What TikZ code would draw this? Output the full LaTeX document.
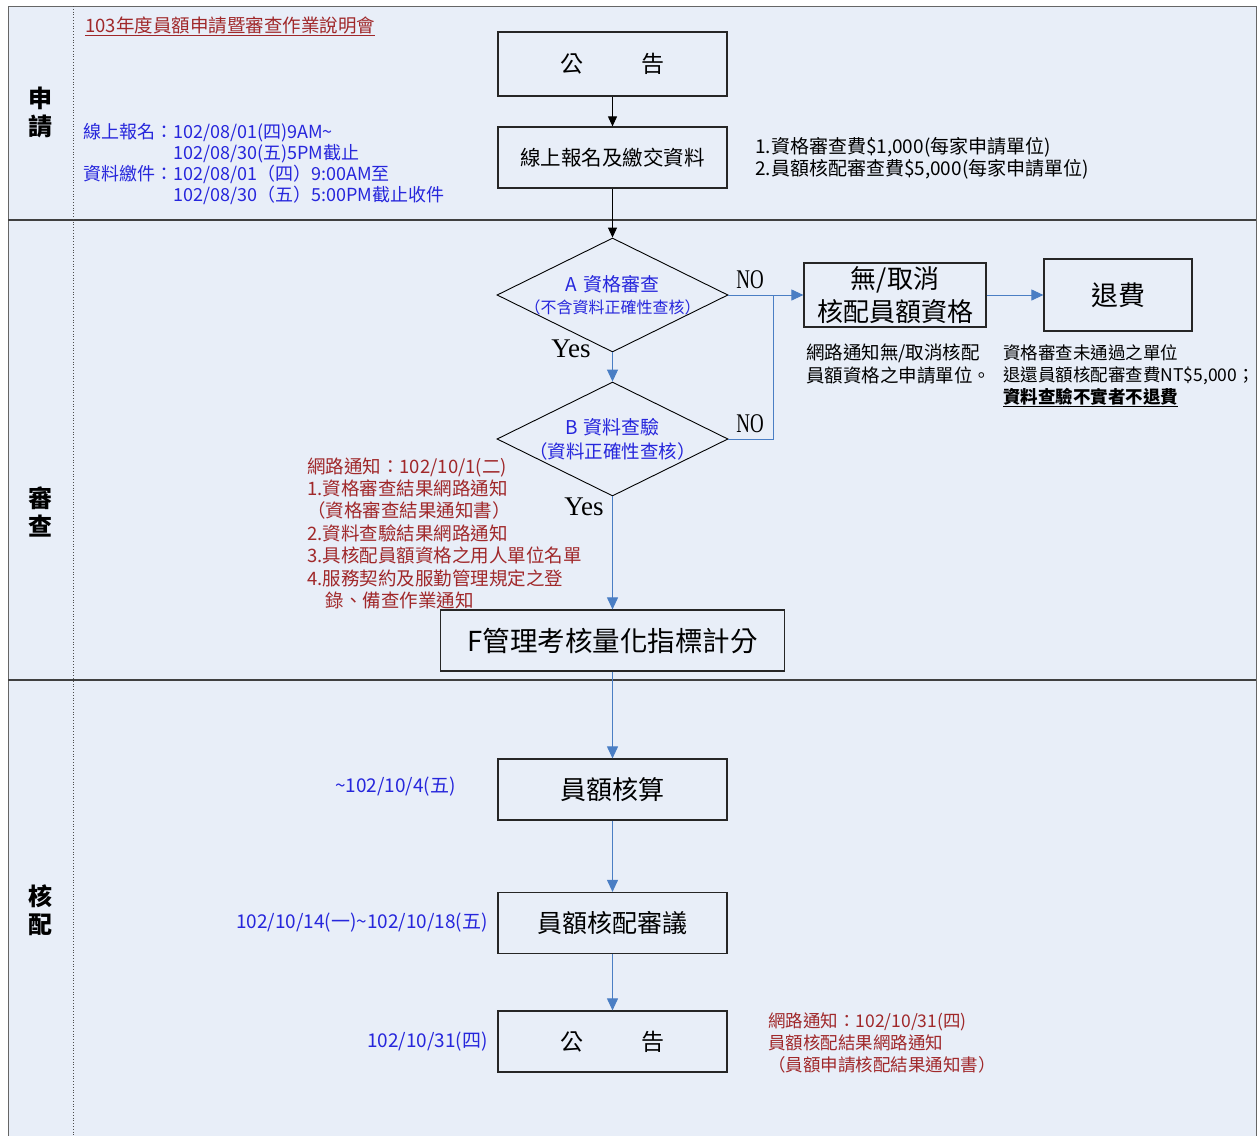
\documentclass[tikz,border=0pt]{standalone}
\usepackage{fontspec}
\setmainfont{Noto Sans CJK TC}
\newfontfamily\yesfont{Liberation Serif}
\usetikzlibrary{shapes.geometric,arrows.meta}
\definecolor{lanebg}{HTML}{E8EEF8}
\definecolor{flowblue}{HTML}{4A7EC4}
\definecolor{noteblue}{HTML}{2626DC}
\definecolor{notered}{HTML}{A0282A}
\begin{document}
\begin{tikzpicture}[x=1pt, y=-1pt,
    box/.style={draw=black!85, line width=1.2pt, inner sep=0pt, minimum width=229pt, minimum height=61pt},
    decide/.style={draw, diamond, line width=0.9pt, minimum width=231pt, minimum height=114pt, inner sep=0pt},
    flow/.style={-{Triangle[length=12pt,width=11pt]}, flowblue, line width=1pt},
    blackflow/.style={-{Triangle[length=10pt,width=9pt]}, black, line width=1pt},
    yes/.style={font=\yesfont\fontsize{27}{27}\selectfont, inner sep=0pt},
    lane/.style={font=\fontsize{24}{28}\selectfont\bfseries, align=center},
    note/.style={inner sep=0pt, anchor=base west, font=\fontsize{17.5}{22}\selectfont},
    datenote/.style={inner sep=0pt, anchor=east, text=noteblue, font=\fontsize{19}{22}\selectfont}]

          \useasboundingbox (0,0) rectangle (1260,1135);
          \fill[lanebg] (8,6) rectangle (1256,1140);
          \draw[black!60, line width=0.8pt] (8,1140) -- (8,6) -- (1256,6) -- (1256,1140);
          \draw[black!75, line width=1.5pt] (8,220) -- (1256,220);
          \draw[black!75, line width=1.5pt] (8,680) -- (1256,680);
          \draw[black!70, dotted, line width=0.8pt] (73,6) -- (73,1140);

          \node[lane] (laneA) at (40,112) {申\\請};
          \node[lane] (laneB) at (40,512) {審\\查};
          \node[lane] (laneC) at (40,910) {核\\配};

          \node[box, minimum height=64pt, font=\fontsize{23}{23}\selectfont] (post1) at (612.5,64) {公\hspace{58pt}告};
          \node[box, font=\fontsize{20.5}{20.5}\selectfont] (apply) at (612.5,157.5) {線上報名及繳交資料};
          \node[decide, label={[align=center, text=noteblue, font=\fontsize{16}{22}\selectfont]center:{{\fontsize{19}{22}\selectfont A\hspace{6pt}資格審查}\\（不含資料正確性查核）}}] (checkA) at (612.5,295) {};
          \node[decide, label={[align=center, text=noteblue, font=\fontsize{18.5}{24}\selectfont]center:{{\fontsize{19}{24}\selectfont B\hspace{6pt}資料查驗}\\（資料正確性查核）}}] (checkB) at (612.5,439) {};
          \node[box, minimum width=344pt, font=\fontsize{27.5}{27.5}\selectfont] (score) at (612.5,640.5) {F管理考核量化指標計分};
          \node[box, minimum width=182pt, minimum height=64pt, align=center, font=\fontsize{26}{33}\selectfont] (cancel) at (895,295) {無/取消\\核配員額資格};
          \node[box, minimum width=148pt, minimum height=72pt, font=\fontsize{27}{27}\selectfont] (refund) at (1118,295) {退費};
          \node[box, font=\fontsize{26}{26}\selectfont] (calc) at (612.5,789.5) {員額核算};
          \node[box, font=\fontsize{25}{25}\selectfont] (review) at (612.5,923) {員額核配審議};
          \node[box, font=\fontsize{23}{23}\selectfont] (post2) at (612.5,1041.5) {公\hspace{58pt}告};

          \node[yes] (yesA) at (571,349) {Yes};
          \node[yes] (yesB) at (584,507) {Yes};
          \node[yes] (noA) at (750,280) {\scalebox{0.7}[1]{NO}};
          \node[yes] (noB) at (750,424) {\scalebox{0.7}[1]{NO}};

          \draw[blackflow] (post1) -- (apply);
          \draw[blackflow] (apply) -- (checkA);
          \draw[flow] (checkA) -- (checkB);
          \draw[flow] (checkB) -- (score);
          \draw[flow] (score) -- (calc);
          \draw[flow] (calc) -- (review);
          \draw[flow] (review) -- (post2);
          \draw[flow] (checkA) -- (cancel);
          \draw[flow] (cancel) -- (refund);
          \coordinate (join) at (773,295);
          \draw[flowblue, line width=1pt] (checkB.east) -| (join);

          \node[note, text=notered, font=\fontsize{18.5}{22}\selectfont] (title) at (85,32) {\underline{103年度員額申請暨審查作業說明會}};
          \node[note, text=noteblue, font=\fontsize{18}{19.3}\selectfont] (regdate) at (83,138.5) {\begin{tabular}[t]{@{}l@{}l@{}}線上報名：&102/08/01(四)9AM\textasciitilde\\&102/08/30(五)5PM截止\\資料繳件：&102/08/01（四）9:00AM至\\&102/08/30（五）5:00PM截止收件\end{tabular}};
          \node[note, font=\fontsize{19}{22}\selectfont] (fees) at (755,153) {\begin{tabular}[t]{@{}l@{}}1.資格審查費\$1,000(每家申請單位)\\2.員額核配審查費\$5,000(每家申請單位)\end{tabular}};
          \node[note, font=\fontsize{18.5}{23}\selectfont] (cancelnote) at (806,359) {\begin{tabular}[t]{@{}l@{}}網路通知無/取消核配\\員額資格之申請單位。\end{tabular}};
          \node[note] (refundnote) at (1003,359) {\begin{tabular}[t]{@{}l@{}}資格審查未通過之單位\\退還員額核配審查費NT\$5,000；\\\textbf{\underline{資料查驗不實者不退費}}\end{tabular}};
          \node[note, text=notered, font=\fontsize{18.5}{22.3}\selectfont] (resultnote) at (307,473) {\begin{tabular}[t]{@{}l@{}}網路通知：102/10/1(二)\\1.資格審查結果網路通知\\（資格審查結果通知書）\\2.資料查驗結果網路通知\\3.具核配員額資格之用人單位名單\\4.服務契約及服勤管理規定之登\\\hspace*{1em}錄、備查作業通知\end{tabular}};

          \node[datenote] (calcdate) at (456,787) {\textasciitilde 102/10/4(五)};
          \node[datenote] (reviewdate) at (488,923) {102/10/14(一)\textasciitilde 102/10/18(五)};
          \node[datenote] (postdate) at (488,1042) {102/10/31(四)};
          \node[note, text=notered] (postnote) at (768,1027) {\begin{tabular}[t]{@{}l@{}}網路通知：102/10/31(四)\\員額核配結果網路通知\\（員額申請核配結果通知書）\end{tabular}};
        \end{tikzpicture}
\end{document}
